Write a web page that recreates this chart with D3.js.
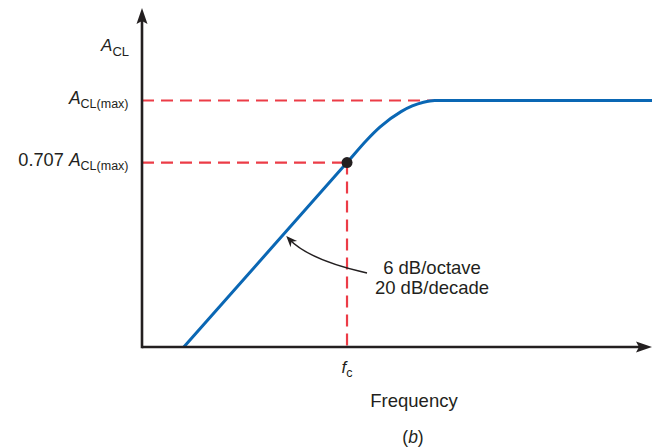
<!DOCTYPE html>
<html>
<head>
<meta charset="utf-8">
<script src="https://cdn.jsdelivr.net/npm/d3@7"></script>
<style>
  html, body { margin: 0; padding: 0; background: #fff; }
  svg { display: block; }
  text { font-family: "Liberation Sans", Arial, Helvetica, sans-serif; fill: #231f20; }
</style>
</head>
<body>
<svg id="chart" width="652" height="448"></svg>
<script>
// ---- data (schematic) ----
const freq = [8.2, 40.2, 44, 46.7, 50.8, 53, 55.2, 57.4, 59.5, 100];
const gain = [0, 0.748, 0.838, 0.893, 0.955, 0.978, 0.993, 1.0, 1.0, 1.0];
const fcFreq = 40.2;          // corner frequency
const fcGain = 0.748;         // 0.707 A_CL(max) level
const maxGain = 1.0;          // A_CL(max) level
const maxDashEnd = 57.4;      // where A_CL(max) dashed guide meets the curve
const yLabels = [
  { value: maxGain, prefix: "", sub: "CL(max)" },
  { value: fcGain, prefix: "0.707 ", sub: "CL(max)" }
];
const annotLines = ["6 dB/octave", "20 dB/decade"];

// ---- layout ----
const svg = d3.select("#chart");
const x = d3.scaleLinear().domain([0, 100]).range([142, 652]);
const y = d3.scaleLinear().domain([0, 1]).range([347, 100.5]);
const yTop = 1.375;
const red = "#ec3c47", blue = "#0a67b4", ink = "#231f20";

// dashed guides
const dash = "12,7";
svg.append("line").attr("x1", x(0)).attr("x2", x(maxDashEnd))
  .attr("y1", y(maxGain)).attr("y2", y(maxGain))
  .attr("stroke", red).attr("stroke-width", 2.2).attr("stroke-dasharray", dash);
svg.append("line").attr("x1", x(0)).attr("x2", x(fcFreq))
  .attr("y1", y(fcGain)).attr("y2", y(fcGain))
  .attr("stroke", red).attr("stroke-width", 2.2).attr("stroke-dasharray", dash);
svg.append("line").attr("x1", x(fcFreq)).attr("x2", x(fcFreq))
  .attr("y1", y(fcGain)).attr("y2", y(0))
  .attr("stroke", red).attr("stroke-width", 2.2).attr("stroke-dasharray", dash);

// response curve
const line = d3.line().x((d, i) => x(freq[i])).y((d, i) => y(gain[i])).curve(d3.curveMonotoneX);
svg.append("path").datum(freq).attr("d", line)
  .attr("fill", "none").attr("stroke", blue).attr("stroke-width", 3);

// axes
svg.append("line").attr("x1", x(0)).attr("x2", 645).attr("y1", y(0)).attr("y2", y(0))
  .attr("stroke", ink).attr("stroke-width", 2.6);
svg.append("line").attr("x1", x(0)).attr("x2", x(0)).attr("y1", y(0) + 1.3).attr("y2", y(yTop) + 6)
  .attr("stroke", ink).attr("stroke-width", 2.6);
// arrowheads
const ax = x(0), ayTop = y(yTop);
svg.append("path")
  .attr("d", `M${ax},${ayTop} L${ax + 5.5},${ayTop + 16} L${ax},${ayTop + 13} L${ax - 5.5},${ayTop + 16} Z`)
  .attr("fill", ink);
const bx = 652, by = y(0);
svg.append("path")
  .attr("d", `M${bx},${by} L${bx - 16},${by + 5.5} L${bx - 13},${by} L${bx - 16},${by - 5.5} Z`)
  .attr("fill", ink);

// fc dot
svg.append("circle").attr("cx", x(fcFreq)).attr("cy", y(fcGain)).attr("r", 5.5).attr("fill", ink);

// y labels
function aLabel(xp, yp, prefix, sub, anchor, size, subSize) {
  const t = svg.append("text").attr("x", xp).attr("y", yp).attr("text-anchor", anchor)
    .attr("font-size", size);
  if (prefix) t.append("tspan").attr("font-size", 18.2).text(prefix);
  t.append("tspan").attr("font-style", "italic").text("A");
  t.append("tspan").attr("font-size", subSize).attr("dy", 4.5).text(sub);
  return t;
}
aLabel(129, 51, "", "CL", "end", 17, 13);
yLabels.forEach(l => aLabel(128.5, y(l.value) + 3.3, l.prefix, l.sub, "end", 17.5, 12.5));

// fc label
const fct = svg.append("text").attr("x", x(fcFreq)).attr("y", 373).attr("text-anchor", "middle").attr("font-size", 17);
fct.append("tspan").attr("font-style", "italic").text("f");
fct.append("tspan").attr("font-size", 12.5).attr("dy", 4).text("c");

// axis title and caption
svg.append("text").attr("x", 414).attr("y", 407).attr("text-anchor", "middle").attr("font-size", 18.5).text("Frequency");
const cap = svg.append("text").attr("x", 413).attr("y", 443).attr("text-anchor", "middle").attr("font-size", 17.5);
cap.append("tspan").text("(");
cap.append("tspan").attr("font-style", "italic").text("b");
cap.append("tspan").text(")");

// annotation
svg.append("text").attr("x", 432).attr("y", 273.5).attr("text-anchor", "middle").attr("font-size", 18.5)
  .selectAll("tspan").data(annotLines).join("tspan")
  .attr("x", 432).attr("dy", (d, i) => i ? 20 : 0).text(d => d);

const p0 = [367, 273], c = [309, 260], p1 = [289, 239];
svg.append("path").attr("d", `M${p0} Q${c} ${p1}`).attr("fill", "none").attr("stroke", ink).attr("stroke-width", 1.4);
// arrowhead at p1 oriented along tangent
const ang = Math.atan2(p1[1] - c[1], p1[0] - c[0]);
const tip = [p1[0] + Math.cos(ang) * 4, p1[1] + Math.sin(ang) * 4];
const L = 11, W = 4.5;
const bxp = tip[0] - Math.cos(ang) * L, byp = tip[1] - Math.sin(ang) * L;
svg.append("path")
  .attr("d", `M${tip} L${bxp - Math.sin(ang) * W},${byp + Math.cos(ang) * W} L${tip[0] - Math.cos(ang) * L * 0.7},${tip[1] - Math.sin(ang) * L * 0.7} L${bxp + Math.sin(ang) * W},${byp - Math.cos(ang) * W} Z`)
  .attr("fill", ink);
</script>
</body>
</html>
